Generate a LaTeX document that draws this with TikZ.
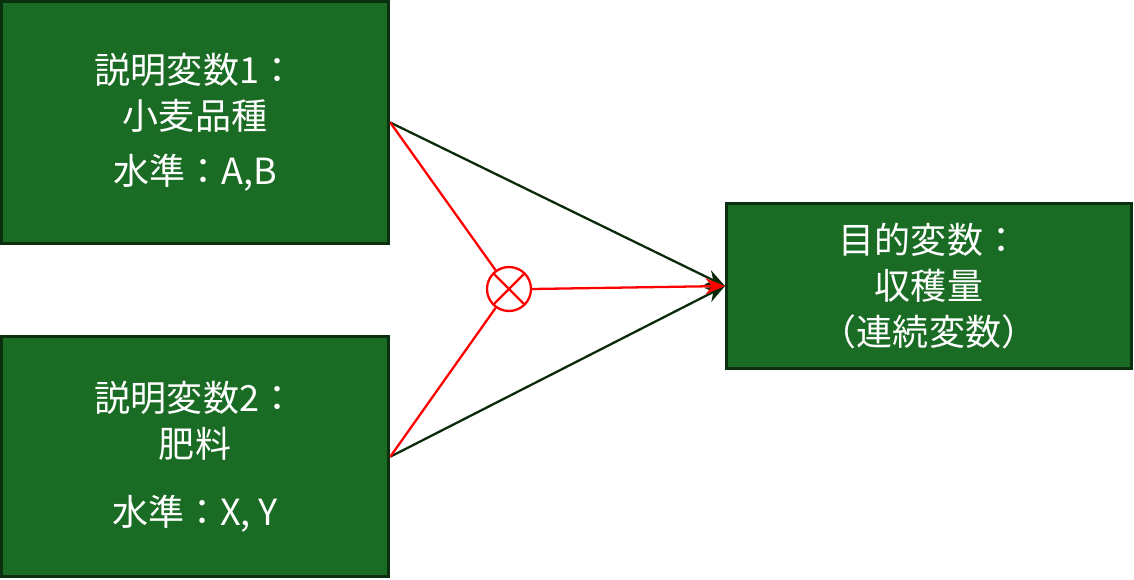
\documentclass[tikz,border=0pt]{standalone}
\usepackage{fontspec}
\setmainfont{Noto Sans CJK JP}
\usetikzlibrary{arrows, arrows.meta, positioning, shapes}
\definecolor{boxgreen}{HTML}{1A6B24}
\definecolor{boxedge}{HTML}{0B3010}
\definecolor{linkdark}{HTML}{0A2A0A}
\tikzstyle{varbox} = [rectangle, draw=boxedge, line width=1.7pt, fill=boxgreen, text=white, align=center, font=\fontsize{20.5}{26}\selectfont, inner sep=0pt]
\tikzstyle{link} = [line width=1.3pt, draw=linkdark, -{Stealth[length=11pt, width=9pt]}]
\tikzstyle{inter} = [line width=1.3pt, draw=red]
\tikzstyle{arrow} = [line width=1.3pt, -{Stealth[length=11pt, width=9pt]}]

\begin{document}
\begin{tikzpicture}
    \useasboundingbox (0,0) rectangle (22.68,-11.6);
    % Explanatory variables
    \node (x1) [varbox, minimum width=7.75cm, minimum height=4.85cm] at (3.9,-2.45) {説明変数1：\\小麦品種\\[0.2cm]水準：A,B};
    \node (x2) [varbox, minimum width=7.75cm, minimum height=4.8cm, below=1.8cm of x1] {説明変数2：\\肥料\\[0.45cm]水準：X, Y};

    % Objective variable
    \node (y) [varbox, minimum width=8.1cm, minimum height=3.3cm] at (18.58,-5.72) {目的変数：\\収穫量\\（連続変数）};

    % Interaction
    \node (int) [circle, draw=red, line width=1.3pt, minimum size=0.88cm, inner sep=0pt] at (10.18,-5.78) {};
    \draw [inter] (int.north west) -- (int.south east);
    \draw [inter] (int.north east) -- (int.south west);

    % Arrows
    \draw [link] (x1.east) -- (y.west);
    \draw [link] (x2.east) -- (y.west);
    \draw [inter] (x1.east) -- (int);
    \draw [inter] (x2.east) -- (int);
    \draw [arrow, red] (int.east) -- (y.west);
\end{tikzpicture}
\end{document}
